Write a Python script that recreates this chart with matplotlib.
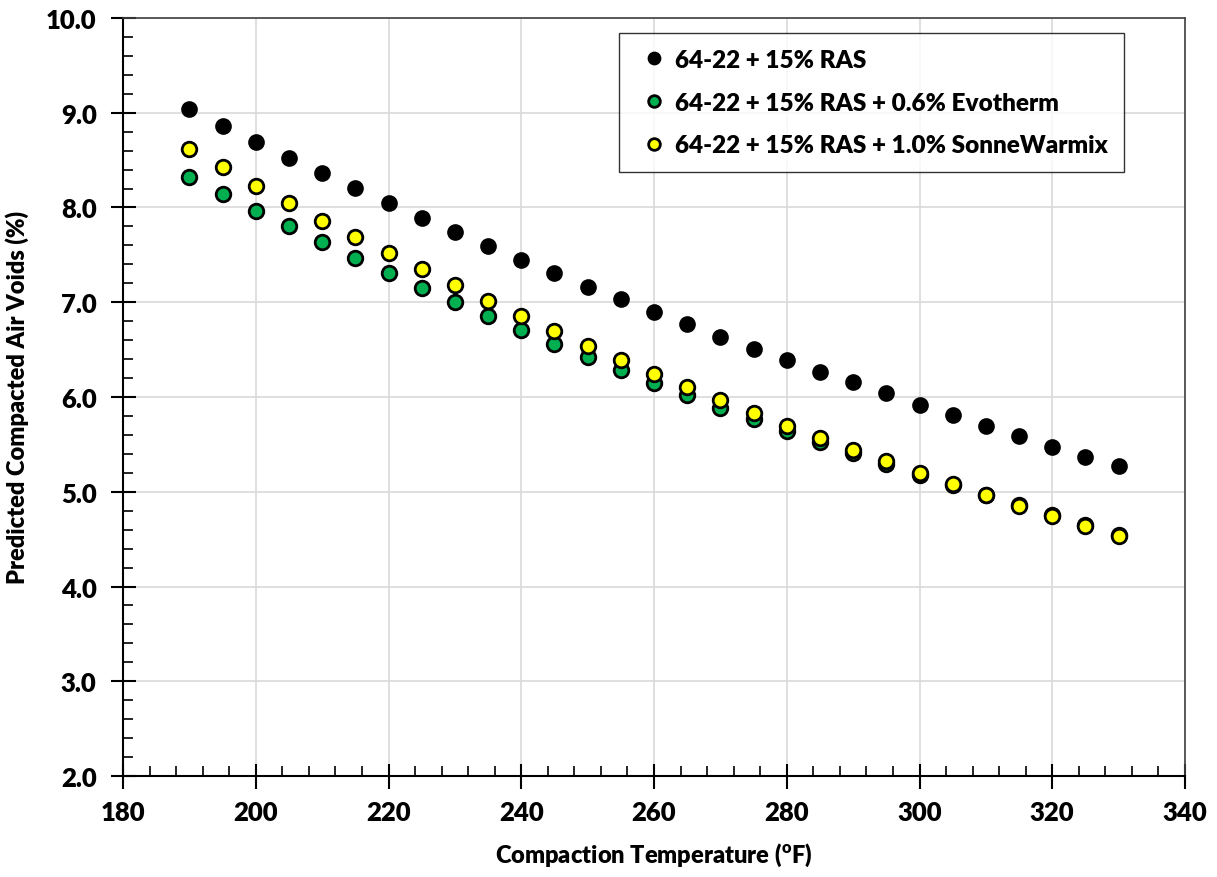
import numpy as np
import matplotlib.pyplot as plt
from matplotlib.ticker import MultipleLocator, FormatStrFormatter

plt.rcParams['font.family'] = ['Lato', 'DejaVu Sans']
W = 'heavy'

temps = list(range(190, 331, 5))

ras = [9.04, 8.86, 8.69, 8.52, 8.36, 8.21, 8.05, 7.89, 7.74, 7.59,
       7.45, 7.31, 7.16, 7.03, 6.90, 6.77, 6.63, 6.51, 6.39, 6.26,
       6.16, 6.04, 5.92, 5.81, 5.69, 5.59, 5.47, 5.37, 5.27]
evotherm = [8.32, 8.14, 7.96, 7.80, 7.64, 7.47, 7.31, 7.15, 7.00, 6.85,
            6.71, 6.56, 6.42, 6.28, 6.15, 6.02, 5.88, 5.77, 5.64, 5.53,
            5.41, 5.29, 5.18, 5.07, 4.97, 4.86, 4.75, 4.65, 4.54]
sonne = [8.62, 8.43, 8.23, 8.05, 7.86, 7.69, 7.52, 7.35, 7.18, 7.01,
         6.85, 6.70, 6.54, 6.39, 6.24, 6.11, 5.97, 5.83, 5.69, 5.57,
         5.44, 5.32, 5.20, 5.08, 4.97, 4.85, 4.74, 4.64, 4.53]

labels = ["64-22 + 15% RAS",
          "64-22 + 15% RAS + 0.6% Evotherm",
          "64-22 + 15% RAS + 1.0% SonneWarmix"]

fig = plt.figure(figsize=(12.17, 8.78), dpi=100)
ax = fig.add_axes([0.1011, 0.115, 0.8726, 0.8634])

ms = 10.5
ax.plot(temps, ras, 'o', ls='none', ms=ms, mfc='black', mec='black',
        mew=1.5, label=labels[0], zorder=3)
ax.plot(temps, evotherm, 'o', ls='none', ms=ms, mfc='#00B050', mec='black',
        mew=2, label=labels[1], zorder=3)
ax.plot(temps, sonne, 'o', ls='none', ms=ms, mfc='#FFFF00', mec='black',
        mew=2, label=labels[2], zorder=4)

ax.set_xlim(180, 340)
ax.set_ylim(2.0, 10.0)
ax.xaxis.set_major_locator(MultipleLocator(20))
ax.xaxis.set_minor_locator(MultipleLocator(4))
ax.yaxis.set_major_locator(MultipleLocator(1.0))
ax.yaxis.set_minor_locator(MultipleLocator(0.2))
ax.yaxis.set_major_formatter(FormatStrFormatter('%.1f'))

ax.grid(True, which='major', color='#D9D9D9', lw=1.2, zorder=0)
ax.set_axisbelow(True)

ax.tick_params(which='major', direction='inout', length=18, width=1.5,
               labelsize=18.5, pad=8, colors='black')
ax.tick_params(which='minor', direction='in', length=7, width=1.2)
ax.tick_params(axis='y', pad=10)
for lab in ax.get_xticklabels() + ax.get_yticklabels():
    lab.set_fontweight(W)

for side in ['left', 'bottom']:
    ax.spines[side].set_color('black')
    ax.spines[side].set_linewidth(1.5)
for side in ['top', 'right']:
    ax.spines[side].set_color('#404040')
    ax.spines[side].set_linewidth(1.2)

ax.set_xlabel("Compaction Temperature ($\\mathregular{^o}$F)", fontsize=17,
              fontweight=W, labelpad=12)
ax.set_ylabel("Predicted Compacted Air Voids (%)", fontsize=17,
              fontweight=W, labelpad=12)

leg = ax.legend(loc='upper left', bbox_to_anchor=(0.467, 0.98),
                fontsize=17.5, frameon=True, fancybox=False, borderpad=0.65,
                labelspacing=0.85, handletextpad=0.05, handlelength=1.6,
                markerscale=0.8, borderaxespad=0)
leg.get_frame().set_edgecolor('black')
leg.get_frame().set_linewidth(1.0)
for t in leg.get_texts():
    t.set_fontweight(W)

fig.savefig('out.png', dpi=100)
